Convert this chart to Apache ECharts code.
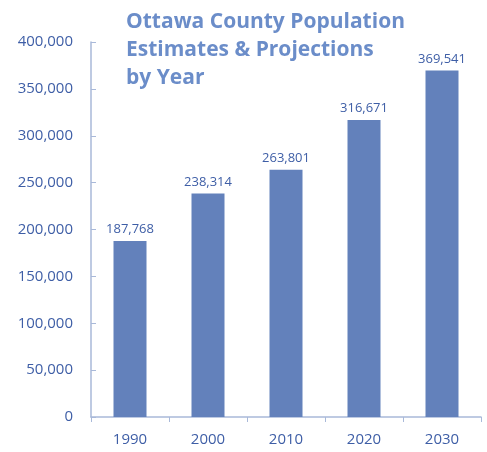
<!DOCTYPE html>
<html><head><meta charset="utf-8">
<script src="https://cdn.jsdelivr.net/npm/echarts@6/dist/echarts.min.js"></script>
<style>html,body{margin:0;padding:0;background:#fff}#c{width:487px;height:452px}</style>
</head><body><div id="c"></div>
<script>
const categories = ['1990','2000','2010','2020','2030'];
const population = [187768, 238314, 263801, 316671, 369541];
const chart = echarts.init(document.getElementById('c'));
const font = '"Open Sans", "Noto Sans", sans-serif';
chart.setOption({
  animation: false,
  title: {
    text: 'Ottawa County Population\nEstimates & Projections\nby Year',
    left: 121, top: 3,
    textStyle: {fontFamily: font, fontWeight: 'bold', fontSize: 21, lineHeight: 28, color: '#6b8dc9'}
  },
  grid: {left: 91, right: 6, top: 42, bottom: 35},
  xAxis: {
    type: 'category', data: categories,
    axisLine: {lineStyle: {color: '#a9b9d9', width: 1.5}},
    axisTick: {show: true, inside: false, length: 5, lineStyle: {color: '#a9b9d9'}},
    axisLabel: {fontFamily: font, fontSize: 15, color: '#3e5ea6', margin: 15}
  },
  yAxis: {
    type: 'value', min: 0, max: 400000, interval: 50000,
    splitLine: {show: false},
    axisLine: {show: true, lineStyle: {color: '#a9b9d9', width: 1.5}},
    axisTick: {show: true, inside: true, length: 5, lineStyle: {color: '#a9b9d9'}},
    axisLabel: {fontFamily: font, fontSize: 15, color: '#3e5ea6', margin: 18,
      formatter: v => v.toLocaleString('en-US')}
  },
  series: [{
    type: 'bar', data: population, barWidth: 33,
    itemStyle: {color: '#6381bb'},
    label: {show: true, position: 'top', distance: 5, fontFamily: font, fontSize: 13, color: '#3e5ea6',
      formatter: p => p.value.toLocaleString('en-US')}
  }]
});
</script></body></html>
